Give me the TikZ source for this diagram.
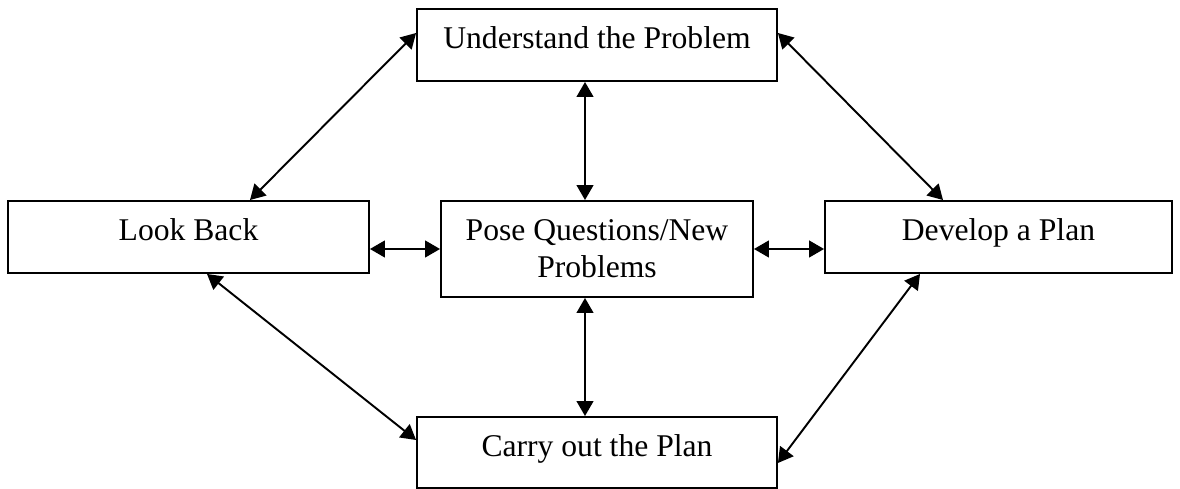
\documentclass[tikz,border=0pt]{standalone}
\usepackage{fontspec}
\setmainfont{Liberation Serif}
\usetikzlibrary{positioning, arrows.meta, calc}
\tikzset{
  stagebox/.style={draw, line width=1.1pt, minimum width=7.2cm, minimum height=1.44cm, text height=0.7em, text depth=0.25em},
  link/.style={arrows={Triangle[length=8.5pt, width=9.5pt]-Triangle[length=8.5pt, width=9.5pt]}, line width=1.1pt}
}

\begin{document}
\begin{tikzpicture}[x=0.02cm, y=-0.02cm, font=\fontsize{18}{21}\selectfont]
  \useasboundingbox (0,0) rectangle (1180,489);
  \node[stagebox] (understand) at (597,45) {Understand the Problem};
  \node[stagebox, minimum width=7.22cm] (lookback) at (188.5,237) {Look Back};
  \node[draw, line width=1.1pt, minimum width=6.24cm, minimum height=1.92cm, align=center] (pose) at (597,249) {Pose Questions/New\\Problems};
  \node[stagebox, minimum width=6.94cm] (develop) at (998.5,237) {Develop a Plan};
  \node[stagebox, minimum height=1.42cm] (carry) at (597,452.5) {Carry out the Plan};

  \draw[link] ([yshift=0.24cm]understand.west) -- ([xshift=1.23cm]lookback.north);
  \draw[link] ([yshift=0.24cm]understand.east) -- ([xshift=-1.11cm]develop.north);
  \draw[link] ([xshift=-0.24cm]understand.south) -- ([xshift=-0.24cm]pose.north);
  \draw[link] ([yshift=-0.24cm]lookback.east) -- (pose.west);
  \draw[link] (pose.east) -- ([yshift=-0.24cm]develop.west);
  \draw[link] ([xshift=-0.24cm]pose.south) -- ([xshift=-0.24cm]carry.north);
  \draw[link] ([xshift=0.37cm]lookback.south) -- ([yshift=0.25cm]carry.west);
  \draw[link] ([xshift=-1.57cm]develop.south) -- ([yshift=-0.21cm]carry.east);
\end{tikzpicture}
\end{document}
